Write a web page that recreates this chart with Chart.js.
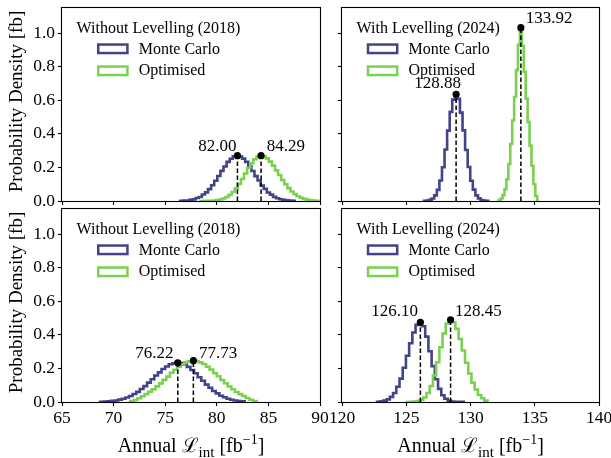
<!DOCTYPE html>
<html>
<head>
<meta charset="utf-8">
<script src="https://cdn.jsdelivr.net/npm/chart.js@4.4.1/dist/chart.umd.min.js"></script>
<style>
  html, body { margin: 0; padding: 0; background: #fff; }
  #wrap { position: relative; width: 611px; height: 458px; }
  #wrap canvas { position: absolute; left: 0; top: 0; }
</style>
</head>
<body>
<div id="wrap">
  <canvas id="tl" width="611" height="458"></canvas>
  <canvas id="tr" width="611" height="458"></canvas>
  <canvas id="bl" width="611" height="458"></canvas>
  <canvas id="br" width="611" height="458"></canvas>
</div>
<script>
// panel titles and series names
const panelTitles = ['Without Levelling (2018)', 'With Levelling (2024)', 'Without Levelling (2018)', 'With Levelling (2024)'];
const seriesNames = ['Monte Carlo', 'Optimised'];

// tick labels
const xTicksLeft = [65, 70, 75, 80, 85, 90];
const xTicksRight = [120, 125, 130, 135, 140];
const yTicks = [0, 0.2, 0.4, 0.6, 0.8, 1.0];

// histograms: first bin edge, bin width, bin heights (probability density)
const tlMcStart = 76.45, tlMcBin = 0.3;
const tlMc = [0.0012, 0.0026, 0.0034, 0.0072, 0.0098, 0.0175, 0.0240, 0.0390, 0.0515, 0.0710, 0.0935, 0.1205, 0.1490,
  0.1795, 0.2060, 0.2330, 0.2520, 0.2660, 0.2700, 0.2655, 0.2525, 0.2330, 0.2070, 0.1785, 0.1480, 0.1220, 0.0925,
  0.0725, 0.0505, 0.0380, 0.0245, 0.0165, 0.0104, 0.0068, 0.0038, 0.0023, 0.0012];
const tlOptStart = 78.44, tlOptBin = 0.3;
const tlOpt = [0.0002, 0.0005, 0.0008, 0.0017, 0.0029, 0.0056, 0.0088, 0.0152, 0.0240, 0.0365, 0.0535, 0.0755, 0.1010,
  0.1315, 0.1640, 0.1965, 0.2245, 0.2490, 0.2650, 0.2700, 0.2660, 0.2540, 0.2345, 0.2105, 0.1825, 0.1545, 0.1255,
  0.0995, 0.0770, 0.0565, 0.0410, 0.0285, 0.0195, 0.0126, 0.0082, 0.0049, 0.0031, 0.0016];

const trMcStart = 126.38, trMcBin = 0.2;
const trMc = [0.0008, 0.0024, 0.0066, 0.0152, 0.0338, 0.0665, 0.1225, 0.2010, 0.3070, 0.4195, 0.5310, 0.6040, 0.6360,
  0.6085, 0.5265, 0.4210, 0.3040, 0.2025, 0.1210, 0.0675, 0.0335, 0.0158, 0.0064, 0.0025, 0.0008];
const trOptStart = 132.195, trOptBin = 0.15;
const trOpt = [0.005, 0.015, 0.035, 0.070, 0.130, 0.220, 0.340, 0.480, 0.620, 0.780, 0.930, 1.033, 0.925, 0.770,
  0.610, 0.470, 0.330, 0.210, 0.100, 0.030];

const blMcStart = 68.695, blMcBin = 0.35;
const blMc = [0.0018, 0.0028, 0.0042, 0.0066, 0.0093, 0.0140, 0.0190, 0.0270, 0.0355, 0.0478, 0.0605, 0.0775, 0.0945,
  0.1155, 0.1355, 0.1575, 0.1765, 0.1965, 0.2115, 0.2245, 0.2305, 0.2340, 0.2315, 0.2220, 0.2095, 0.1905, 0.1715,
  0.1475, 0.1265, 0.1035, 0.0845, 0.0655, 0.0515, 0.0375, 0.0280, 0.0192, 0.0138, 0.0090, 0.0062, 0.0038];
const blOptStart = 71.605, blOptBin = 0.35;
const blOpt = [0.005, 0.012, 0.022, 0.034, 0.047, 0.061, 0.075, 0.093, 0.111, 0.132, 0.151, 0.174, 0.192, 0.211,
  0.224, 0.237, 0.243, 0.246, 0.244, 0.236, 0.226, 0.210, 0.193, 0.172, 0.153, 0.131, 0.112, 0.092, 0.076, 0.060,
  0.047, 0.036, 0.024, 0.013, 0.005];

const brMcStart = 122.725, brMcBin = 0.25;
const brMc = [0.0016, 0.0036, 0.0080, 0.0158, 0.0308, 0.0538, 0.0905, 0.1395, 0.2040, 0.2755, 0.3505, 0.4140, 0.4595,
  0.4750, 0.4515, 0.3895, 0.3020, 0.2135, 0.1355, 0.0785, 0.0405, 0.0195, 0.0080, 0.0033, 0.0012, 0.0008, 0.0005];
const brOptStart = 125.075, brOptBin = 0.25;
const brOpt = [0.0002, 0.0007, 0.0020, 0.0052, 0.0125, 0.0266, 0.0535, 0.0955, 0.1580, 0.2365, 0.3260, 0.4085, 0.4680,
  0.4900, 0.4755, 0.4360, 0.3755, 0.3065, 0.2340, 0.1700, 0.1155, 0.0745, 0.0420, 0.0220, 0.0080];

// marked means (Monte Carlo, Optimised) and their peak heights
const tlMeans = [82.00, 84.29], tlPeaks = [0.270, 0.270];
const trMeans = [128.88, 133.92], trPeaks = [0.636, 1.033];
const blMeans = [76.22, 77.73], blPeaks = [0.234, 0.246];
const brMeans = [126.10, 128.45], brPeaks = [0.475, 0.490];

const W = 611, H = 458;
const FONT = '"Liberation Serif", "DejaVu Serif", serif';
const BLUE = '#414487', GREEN = '#7ad151';

// turn bin heights into an outline path (matplotlib histtype='step')
function stepPoints(start, bin, vals) {
  const pts = [{x: start, y: 0}];
  vals.forEach((v, i) => {
    pts.push({x: start + i * bin, y: v});
    pts.push({x: start + (i + 1) * bin, y: v});
  });
  pts.push({x: start + vals.length * bin, y: 0});
  return pts;
}

const decor = {
  id: 'decor',
  afterDatasetsDraw(chart, args, o) {
    const ctx = chart.ctx, xs = chart.scales.x, ys = chart.scales.y;
    ctx.save();
    ctx.fillStyle = '#000';
    ctx.font = '17px ' + FONT;
    ctx.textBaseline = 'middle';
    o.means.forEach((m, i) => {
      const px = xs.getPixelForValue(m), py = ys.getPixelForValue(o.peaks[i]);
      ctx.textAlign = i === 0 ? 'right' : 'left';
      ctx.fillText(m.toFixed(2), px + o.offsets[i][0], py + o.offsets[i][1]);
    });
    ctx.restore();
  },
  afterDraw(chart, args, o) {
    const ctx = chart.ctx, a = chart.chartArea;
    ctx.save();
    // spines
    ctx.strokeStyle = '#000';
    ctx.lineWidth = 1.1;
    ctx.strokeRect(a.left - 0.5, a.top - 0.5, a.right - a.left + 1, a.bottom - a.top + 1);

    // legend
    ctx.fillStyle = '#000';
    ctx.font = '16px ' + FONT;
    ctx.textAlign = 'left';
    ctx.textBaseline = 'alphabetic';
    const tx = a.left + 14.6;
    const tw = ctx.measureText(o.title).width;
    ctx.fillText(o.title, tx, a.top + 25.3);
    const entryW = 31.7 + 10 + ctx.measureText(seriesNames[0]).width;
    const ex = tx + (tw - entryW) / 2;
    [BLUE, GREEN].forEach((c, i) => {
      const cy = a.top + 40.8 + i * 22;
      ctx.strokeStyle = c;
      ctx.lineWidth = 2.5;
      ctx.strokeRect(ex + 1.25, cy - 5.5 + 1.25, 31.7 - 2.5, 11 - 2.5);
      ctx.fillText(seriesNames[i], ex + 41.7, a.top + 46 + i * 21);
    });

    // y axis title
    if (o.yTitle) {
      ctx.save();
      ctx.translate(16.7, (a.top + a.bottom) / 2 - 3);
      ctx.rotate(-Math.PI / 2);
      ctx.font = '19px ' + FONT;
      ctx.textAlign = 'center';
      ctx.textBaseline = 'middle';
      ctx.fillText('Probability Density [fb]', 0, 0);
      ctx.restore();
    }

    // x axis title: Annual L_int [fb^-1]
    if (o.xTitle) {
      const parts = [
        {t: 'Annual ', s: 20, dy: 0},
        {t: '\u2112', s: 20, dy: 0},
        {t: 'int', s: 15, dy: 5},
        {t: ' [fb', s: 20, dy: 0},
        {t: '\u22121', s: 14, dy: -8},
        {t: ']', s: 20, dy: 0}
      ];
      let total = 0;
      parts.forEach(p => { ctx.font = p.s + 'px ' + FONT; p.w = ctx.measureText(p.t).width; total += p.w; });
      let x = (a.left + a.right) / 2 - total / 2;
      ctx.textAlign = 'left';
      ctx.textBaseline = 'alphabetic';
      parts.forEach(p => {
        ctx.font = p.s + 'px ' + FONT;
        ctx.fillText(p.t, x, 451.7 + p.dy);
        x += p.w;
      });
    }
    ctx.restore();
  }
};

function makePanel(id, p) {
  const datasets = [
    {data: p.means.map((m, i) => ({x: m, y: p.peaks[i]})), showLine: false, pointRadius: 3.6,
      pointBackgroundColor: '#000', pointBorderWidth: 0, order: 0},
    {data: [{x: p.means[0], y: 0}, {x: p.means[0], y: p.peaks[0]}], borderColor: '#000', borderWidth: 1.5,
      borderDash: [4.5, 2.5], pointRadius: 0, order: 1},
    {data: [{x: p.means[1], y: 0}, {x: p.means[1], y: p.peaks[1]}], borderColor: '#000', borderWidth: 1.5,
      borderDash: [4.5, 2.5], pointRadius: 0, order: 1},
    {data: stepPoints(p.opt[0], p.opt[1], p.opt[2]), borderColor: GREEN, borderWidth: 2.6, pointRadius: 0, order: 2},
    {data: stepPoints(p.mc[0], p.mc[1], p.mc[2]), borderColor: BLUE, borderWidth: 2.6, pointRadius: 0, order: 3}
  ];
  const tickFont = {family: FONT, size: 17.5};
  // axis boxes must be big enough to hold their tick labels (labels are clipped to the box)
  const yW = p.yLabels ? 50 : 10;
  const xH = p.xLabels ? 30 : 10;
  new Chart(document.getElementById(id), {
    type: 'line',
    data: {datasets},
    plugins: [decor],
    options: {
      responsive: false,
      animation: false,
      devicePixelRatio: 1,
      layout: {padding: {left: p.area[0] - yW, top: p.area[1], right: W - p.area[2], bottom: H - p.area[3] - xH}},
      elements: {line: {tension: 0, fill: false, borderJoinStyle: 'miter'}, point: {hoverRadius: 0}},
      plugins: {
        legend: {display: false},
        tooltip: {enabled: false},
        decor: {title: p.title, means: p.means, peaks: p.peaks, offsets: p.offsets, yTitle: p.yLabels, xTitle: p.xLabels}
      },
      scales: {
        x: {
          type: 'linear', bounds: 'data', min: p.xTicks[0], max: p.xTicks[p.xTicks.length - 1],
          afterBuildTicks: s => { s.ticks = p.xTicks.map(v => ({value: v})); },
          afterFit: s => { s.height = xH; s.paddingLeft = 0; s.paddingRight = 0; },
          border: {display: false},
          grid: {drawOnChartArea: false, drawTicks: true, tickLength: 4, tickColor: '#000', tickWidth: 1.1},
          ticks: {display: p.xLabels, color: '#000', font: tickFont, padding: 2, maxRotation: 0, autoSkip: false,
            callback: v => String(v)}
        },
        y: {
          type: 'linear', bounds: 'data', min: 0, max: 1.15,
          afterBuildTicks: s => { s.ticks = yTicks.map(v => ({value: v})); },
          afterFit: s => { s.width = yW; s.paddingTop = 0; s.paddingBottom = 0; },
          border: {display: false},
          grid: {drawOnChartArea: false, drawTicks: true, tickLength: 4, tickColor: '#000', tickWidth: 1.1},
          ticks: {display: p.yLabels, color: '#000', font: tickFont, padding: 3, autoSkip: false,
            callback: v => v.toFixed(1)}
        }
      }
    }
  });
}

makePanel('tl', {title: panelTitles[0], area: [62, 8, 320, 201], xTicks: xTicksLeft, xLabels: false, yLabels: true,
  mc: [tlMcStart, tlMcBin, tlMc], opt: [tlOptStart, tlOptBin, tlOpt], means: tlMeans, peaks: tlPeaks,
  offsets: [[-1, -9], [5.7, -9]]});
makePanel('tr', {title: panelTitles[1], area: [342, 8, 599, 201], xTicks: xTicksRight, xLabels: false, yLabels: false,
  mc: [trMcStart, trMcBin, trMc], opt: [trOptStart, trOptBin, trOpt], means: trMeans, peaks: trPeaks,
  offsets: [[5, -11], [5, -9.4]]});
makePanel('bl', {title: panelTitles[2], area: [62, 209, 320, 402], xTicks: xTicksLeft, xLabels: true, yLabels: true,
  mc: [blMcStart, blMcBin, blMc], opt: [blOptStart, blOptBin, blOpt], means: blMeans, peaks: blPeaks,
  offsets: [[-4.4, -8.7], [5.7, -7.4]]});
makePanel('br', {title: panelTitles[3], area: [342, 209, 599, 402], xTicks: xTicksRight, xLabels: true, yLabels: false,
  mc: [brMcStart, brMcBin, brMc], opt: [brOptStart, brOptBin, brOpt], means: brMeans, peaks: brPeaks,
  offsets: [[-2.4, -11], [4.3, -8.7]]});
</script>
</body>
</html>
